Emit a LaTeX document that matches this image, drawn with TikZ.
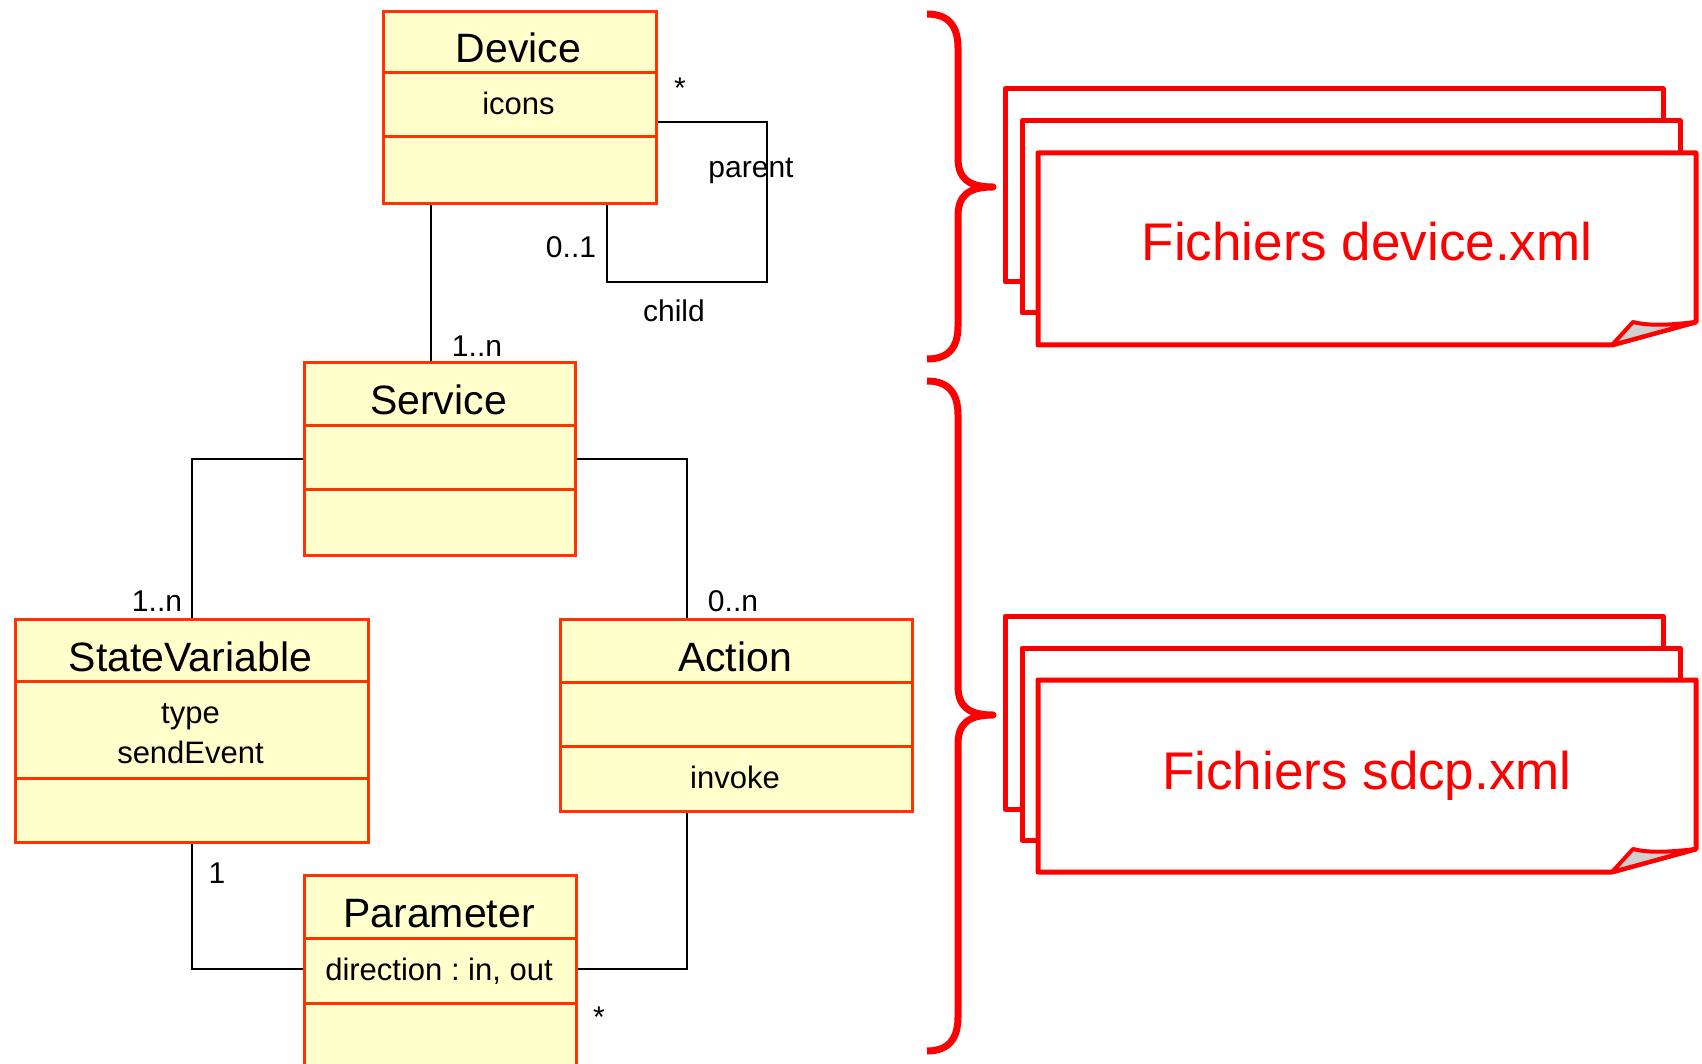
\documentclass[tikz,border=0pt]{standalone}
\usepackage{fontspec}
\setmainfont{Liberation Sans}
\usetikzlibrary{calc}
\definecolor{clsborder}{HTML}{FF3300}
\definecolor{clsfill}{HTML}{FFFFCC}
\definecolor{docred}{HTML}{FF0000}
\definecolor{foldgray}{HTML}{D0D0D0}
\frenchspacing

\begin{document}
\begin{tikzpicture}[x=1pt,y=-1pt,
  cls/.style={draw=clsborder, fill=clsfill, line width=3pt, rectangle, inner sep=0pt, anchor=north west},
  divider/.style={draw=clsborder, line width=3pt},
  ctitle/.style={anchor=base, inner sep=0pt, font=\fontsize{41}{49}\selectfont},
  cattr/.style={anchor=base, inner sep=0pt, font=\fontsize{31}{40}\selectfont},
  mult/.style={anchor=base, inner sep=0pt, font=\fontsize{30}{36}\selectfont},
  assoc/.style={draw=black, line width=2.2pt},
  brace/.style={draw=docred, line width=7pt, line join=round},
  page/.style={draw=docred, fill=white, line width=5pt, line join=round},
  fold/.style={draw=docred, fill=foldgray, line width=4pt, line join=round},
  doctext/.style={anchor=base, inner sep=0pt, text=docred, font=\fontsize{53}{60}\selectfont}]

\path[use as bounding box, clip] (0,0) rectangle (1702,1064);

% ---------- class boxes ----------
\node[cls, minimum width=273pt, minimum height=192pt] (dev) at (382,10) {};
\draw[divider] ([yshift=-63pt]dev.north west) -- ([yshift=-63pt]dev.north east);
\draw[divider] ([yshift=-127pt]dev.north west) -- ([yshift=-127pt]dev.north east);
\node[ctitle] (devT) at (518.5,63) {Device};
\node[cattr] (devA) at (518.5,115) {icons};

\node[cls, minimum width=271pt, minimum height=193pt] (svc) at (303,361) {};
\draw[divider] ([yshift=-64pt]svc.north west) -- ([yshift=-64pt]svc.north east);
\draw[divider] ([yshift=-128pt]svc.north west) -- ([yshift=-128pt]svc.north east);
\node[ctitle] (svcT) at (438.5,414) {Service};

\node[cls, minimum width=353pt, minimum height=223pt] (stv) at (14,618) {};
\draw[divider] ([yshift=-63pt]stv.north west) -- ([yshift=-63pt]stv.north east);
\draw[divider] ([yshift=-160pt]stv.north west) -- ([yshift=-160pt]stv.north east);
\node[ctitle] (stvT) at (190.5,671) {StateVariable};
\node[cattr] (stvA) at (190.5,723) {type};
\node[cattr] (stvB) at (190.5,763) {sendEvent};

\node[cls, minimum width=352pt, minimum height=192pt] (act) at (559,618) {};
\draw[divider] ([yshift=-64pt]act.north west) -- ([yshift=-64pt]act.north east);
\draw[divider] ([yshift=-128pt]act.north west) -- ([yshift=-128pt]act.north east);
\node[ctitle] (actT) at (735,671) {Action};
\node[cattr] (actM) at (735,788) {invoke};

\node[cls, minimum width=272pt, minimum height=200pt] (prm) at (303,874) {};
\draw[divider] ([yshift=-64pt]prm.north west) -- ([yshift=-64pt]prm.north east);
\draw[divider] ([yshift=-129pt]prm.north west) -- ([yshift=-129pt]prm.north east);
\node[ctitle] (prmT) at (439,927) {Parameter};
\node[cattr] (prmA) at (439,980) {direction : in, out};

% ---------- associations ----------
\coordinate (loopc) at (767,282);
\draw[assoc] ([xshift=49pt]dev.south west) -- ([xshift=128pt]svc.north west);
\draw[assoc] ([yshift=-112pt]dev.north east) -| (loopc) -| ([xshift=225pt]dev.south west);
\draw[assoc] (svc.west) -| (stv.north);
\draw[assoc] (svc.east) -| ([xshift=128pt]act.north west);
\draw[assoc] (stv.south) |- ([yshift=-95pt]prm.north west);
\draw[assoc] ([xshift=128pt]act.south west) |- ([yshift=-95pt]prm.north east);

% ---------- multiplicities and roles ----------
\node[mult] (m1) at (680,99) {*};
\node[mult] (m2) at (751,178) {parent};
\node[mult] (m3) at (571,258) {0..1};
\node[mult] (m4) at (674,322) {child};
\node[mult] (m5) at (477,356) {1..n};
\node[mult] (m6) at (157,611) {1..n};
\node[mult] (m7) at (733,611) {0..n};
\node[mult] (m8) at (217,883) {1};
\node[mult] (m9) at (599,1027) {*};

% ---------- braces ----------
\draw[brace] (927,14) .. controls (950,14) and (958,28) .. (958,48) -- (958,158)
  .. controls (958,178) and (968,187) .. (993,187)
  .. controls (968,187) and (958,196) .. (958,216) -- (958,326)
  .. controls (958,346) and (950,359) .. (927,359);
\draw[brace] (927,381) .. controls (950,381) and (958,395) .. (958,415) -- (958,686)
  .. controls (958,706) and (968,715) .. (993,715)
  .. controls (968,715) and (958,724) .. (958,744) -- (958,1017)
  .. controls (958,1037) and (950,1051) .. (927,1051);

% ---------- file stacks ----------
\draw[page] (1005,89) rectangle (1663,282);
\draw[page] (1022,121) rectangle (1680,313);
\draw[page] (1038,153) -- (1696,153) -- (1696,322) -- (1612,345) -- (1038,345) -- cycle;
\draw[fold] (1612,345) -- (1633,322) .. controls (1652,327) and (1678,324) .. (1696,322) -- cycle;
\node[doctext] (f1) at (1367,261) {Fichiers device.xml};

\begin{scope}[shift={(0,527)}]
\draw[page] (1005,89) rectangle (1663,282);
\draw[page] (1022,121) rectangle (1680,313);
\draw[page] (1038,153) -- (1696,153) -- (1696,322) -- (1612,345) -- (1038,345) -- cycle;
\draw[fold] (1612,345) -- (1633,322) .. controls (1652,327) and (1678,324) .. (1696,322) -- cycle;
\end{scope}
\node[doctext] (f2) at (1367,789) {Fichiers sdcp.xml};

\end{tikzpicture}
\end{document}
